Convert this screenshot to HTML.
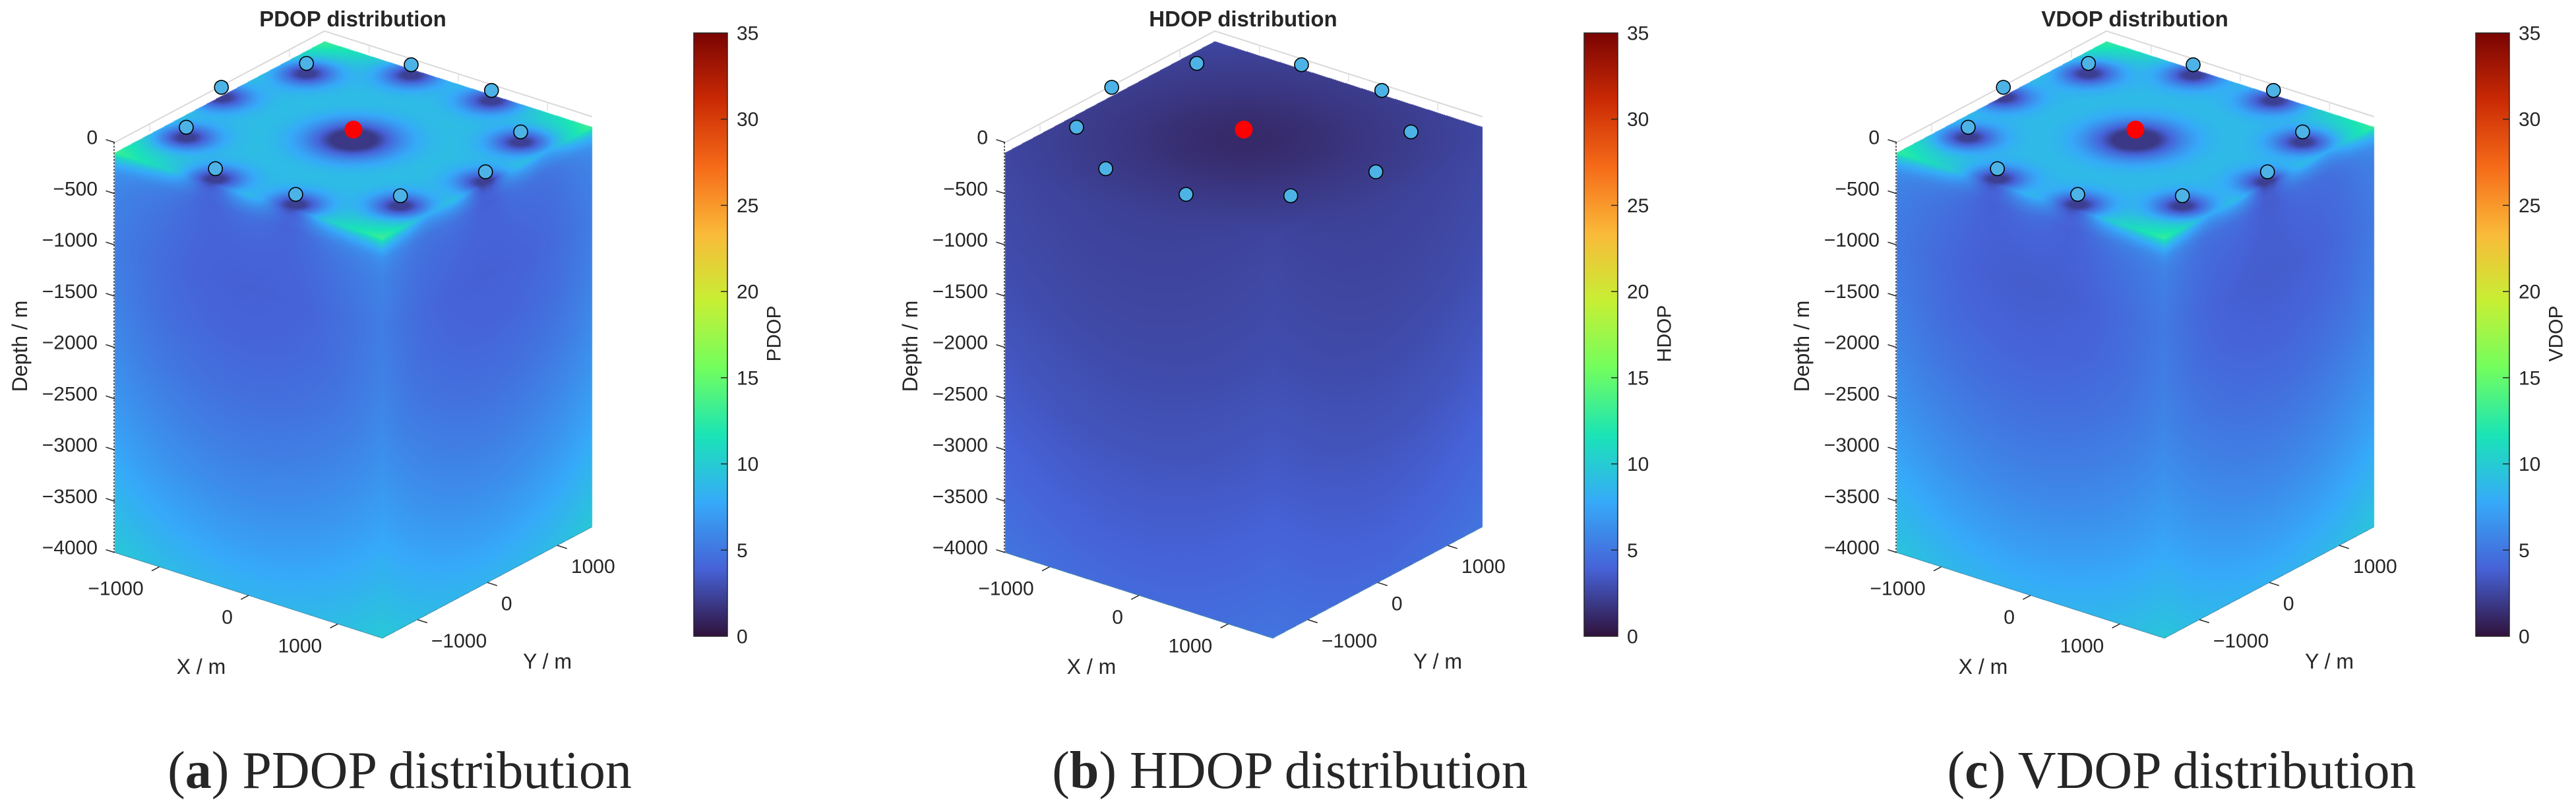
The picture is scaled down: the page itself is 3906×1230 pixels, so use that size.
<!DOCTYPE html>
<html>
<head>
<meta charset="utf-8">
<style>
  html,body{margin:0;padding:0;background:#fff;}
  #wrap{position:relative;width:3906px;height:1230px;overflow:hidden;background:#fff;}
  #cv{position:absolute;left:0;top:0;}
  #sv{position:absolute;left:0;top:0;}
  text{font-family:"Liberation Sans",Arial,sans-serif;fill:#262626;}
</style>
</head>
<body>
<div id="wrap">
<canvas id="cv" width="3906" height="1230"></canvas>
<svg id="sv" width="3906" height="1230" xmlns="http://www.w3.org/2000/svg">
  <defs>
    <linearGradient id="turboGrad" x1="0" y1="1" x2="0" y2="0"></linearGradient>
  </defs>
</svg>
</div>
<script>
// ---------- data ----------
const panelOffsets = [0, 1350, 2702];
const panelTitles = ["PDOP distribution", "HDOP distribution", "VDOP distribution"];
const panelLetters = ["a", "b", "c"];
const colorbarLabels = ["PDOP", "HDOP", "VDOP"];
const depthTicks = [0, -500, -1000, -1500, -2000, -2500, -3000, -3500, -4000];
const xTicks = [-1000, 0, 1000];
const yTicks = [-1000, 0, 1000];
const colorbarTicks = [0, 5, 10, 15, 20, 25, 30, 35];
const sensorX = [-1200, -450, 450, 1200, 1480, 1200, 450, -450, -1200, -1480];
const sensorY = [860, 1400, 1400, 860, 0, -860, -1400, -1400, -860, 0];
const targetX = [0];
const targetY = [0];
// depth profiles (m below surface) of DOP value at centre / corners of the volume
const depthLevels = [100, 300, 1000, 1500, 2000, 2500, 3000, 3500, 4000];
const pdopCenter = [4.8, 3.8, 3.2, 3.1, 3.4, 4.0, 4.8, 5.9, 7.2];
const pdopCorner = [7.0, 5.8, 5.5, 5.8, 6.3, 7.0, 7.8, 8.8, 9.9];
const hdopCenter = [1.8, 2.0, 2.2, 2.3, 2.5, 2.7, 3.0, 3.3, 3.7];
const hdopCorner = [2.5, 2.6, 2.8, 3.0, 3.3, 3.6, 4.0, 4.4, 4.9];
const vdopCenter = [4.6, 3.6, 3.1, 3.0, 3.3, 3.9, 4.7, 5.8, 7.0];
const vdopCorner = [6.8, 5.6, 5.3, 5.6, 6.1, 6.8, 7.6, 8.6, 9.7];
// surface (top slice) levels: plateau, corner, minimum
const surfPlateau = [11.0, 2.1, 10.8];
const surfCorner = [14.0, 2.6, 13.6];
const surfMin = [1.4, 0.9, 1.4];
const turboColors = ['#30123b','#4662d7','#36aaf9','#1ae4b6','#72fe5e','#c7ef34','#faba39','#f66b19','#ca2a04','#7a0403'];
const cMin = 0, cMax = 35;

// ---------- geometry ----------
const HALF = 1500, ZTOP = -100, ZBOT = -4000;
const EXx = 0.1353, EXy = 0.0433, EYx = 0.106, EYy = -0.0563, EZ = 0.1555;
const OX = 174, OY = 216;
function proj(off, x, y, z) {
  return [off + OX + (x + HALF) * EXx + (y + HALF) * EYx,
          OY + (x + HALF) * EXy + (y + HALF) * EYy - z * EZ];
}

// ---------- colour ----------
const turboRGB = turboColors.map(h => [parseInt(h.substr(1,2),16), parseInt(h.substr(3,2),16), parseInt(h.substr(5,2),16)]);
function turbo(v) {
  let t = (v - cMin) / (cMax - cMin);
  t = Math.max(0, Math.min(1, t));
  const f = t * (turboRGB.length - 1);
  const i = Math.min(turboRGB.length - 2, Math.floor(f));
  const a = f - i;
  const c0 = turboRGB[i], c1 = turboRGB[i + 1];
  return [c0[0] + (c1[0] - c0[0]) * a, c0[1] + (c1[1] - c0[1]) * a, c0[2] + (c1[2] - c0[2]) * a];
}

// ---------- field ----------
function interp(arr, d) {
  if (d <= depthLevels[0]) return arr[0];
  for (let i = 1; i < depthLevels.length; i++) {
    if (d <= depthLevels[i]) {
      const a = (d - depthLevels[i - 1]) / (depthLevels[i] - depthLevels[i - 1]);
      return arr[i - 1] + (arr[i] - arr[i - 1]) * a;
    }
  }
  return arr[arr.length - 1];
}
const centerProfiles = [pdopCenter, hdopCenter, vdopCenter];
const cornerProfiles = [pdopCorner, hdopCorner, vdopCorner];

function surfaceVal(p, x, y) {
  const c = Math.pow((x * x + y * y) / (2 * HALF * HALF), 2);
  const base = surfPlateau[p] + (surfCorner[p] - surfPlateau[p]) * c;
  if (p === 1) {
    const r2 = (x - targetX[0]) ** 2 + (y - targetY[0]) ** 2;
    return surfMin[p] + (base - surfMin[p]) * (1 - 0.8 * Math.exp(-r2 / (2 * 750 * 750)));
  }
  let f = 1;
  for (let i = 0; i < sensorX.length; i++) {
    const r2 = (x - sensorX[i]) ** 2 + (y - sensorY[i]) ** 2;
    f *= Math.max(0.08, 1 - 0.72 * Math.exp(-r2 / (2 * 180 * 180)) - 0.25 * Math.exp(-r2 / (2 * 400 * 400)));
  }
  const rc = (x - targetX[0]) ** 2 + (y - targetY[0]) ** 2;
  f *= Math.max(0.05, 1 - 0.85 * Math.exp(-rc / (2 * 280 * 280)) - 0.3 * Math.exp(-rc / (2 * 620 * 620)));
  return surfMin[p] + (base - surfMin[p]) * f;
}
function deepVal(p, x, y, d) {
  const h2 = (x * x + y * y) / (2 * HALF * HALF);
  const cen = interp(centerProfiles[p], d), cor = interp(cornerProfiles[p], d);
  let v = cen + (cor - cen) * h2;
  if (p !== 1) {
    const s = 260 + 0.15 * d;
    let dip = 0;
    for (let i = 0; i < sensorX.length; i++) {
      const r2 = (x - sensorX[i]) ** 2 + (y - sensorY[i]) ** 2;
      dip += Math.exp(-r2 / (2 * s * s));
    }
    v -= 0.9 * Math.min(1, dip) * Math.exp(-d / 2000);
  }
  return v;
}
function sideVal(p, x, y, z) {
  const d = -z;
  const w = Math.exp(-(d - 100) / 90);
  return w * surfaceVal(p, x, y) + (1 - w) * deepVal(p, x, y, d);
}

// ---------- render volume ----------
const cv = document.getElementById('cv');
const ctx = cv.getContext('2d');
const img = ctx.createImageData(3906, 1230);
const px = img.data;
function put(sx, sy, rgb) {
  const k = (sy * 3906 + sx) * 4;
  px[k] = rgb[0]; px[k + 1] = rgb[1]; px[k + 2] = rgb[2]; px[k + 3] = 255;
}
panelOffsets.forEach((off, p) => {
  for (let sx = Math.floor(off + OX); sx <= Math.ceil(off + OX + 2 * HALF * EXx); sx++) {
    const x = (sx + 0.5 - off - OX) / EXx - HALF;
    if (x < -HALF || x > HALF) continue;
    const yTop = OY + (x + HALF) * EXy - ZTOP * EZ;
    const yBot = OY + (x + HALF) * EXy - ZBOT * EZ;
    for (let sy = Math.floor(yTop); sy <= Math.ceil(yBot); sy++) {
      const z = -((sy + 0.5) - OY - (x + HALF) * EXy) / EZ;
      if (z > ZTOP || z < ZBOT) continue;
      put(sx, sy, turbo(sideVal(p, x, -HALF, z)));
    }
  }
  const fx0 = off + OX + 2 * HALF * EXx;
  for (let sx = Math.floor(fx0); sx <= Math.ceil(fx0 + 2 * HALF * EYx); sx++) {
    const y = (sx + 0.5 - fx0) / EYx - HALF;
    if (y < -HALF || y > HALF) continue;
    const base = OY + 2 * HALF * EXy + (y + HALF) * EYy;
    for (let sy = Math.floor(base - ZTOP * EZ); sy <= Math.ceil(base - ZBOT * EZ); sy++) {
      const z = -((sy + 0.5) - base) / EZ;
      if (z > ZTOP || z < ZBOT) continue;
      put(sx, sy, turbo(sideVal(p, HALF, y, z)));
    }
  }
  const det = EXx * EYy - EYx * EXy;
  const tY = OY - ZTOP * EZ;
  const yMin = Math.floor(proj(off, -HALF, HALF, ZTOP)[1]) - 1;
  const yMax = Math.ceil(proj(off, HALF, -HALF, ZTOP)[1]) + 1;
  for (let sx = Math.floor(off + OX); sx <= Math.ceil(fx0 + 2 * HALF * EYx); sx++) {
    for (let sy = yMin; sy <= yMax; sy++) {
      const a = sx + 0.5 - off - OX, b = sy + 0.5 - tY;
      const u = (a * EYy - EYx * b) / det;
      const w = (EXx * b - EXy * a) / det;
      if (u < 0 || u > 2 * HALF || w < 0 || w > 2 * HALF) continue;
      put(sx, sy, turbo(surfaceVal(p, u - HALF, w - HALF)));
    }
  }
});
ctx.putImageData(img, 0, 0);

// ---------- SVG overlay ----------
const NS = 'http://www.w3.org/2000/svg';
const svg = document.getElementById('sv');
function mk(tag, attrs, parent) {
  const e = document.createElementNS(NS, tag);
  for (const k in attrs) e.setAttribute(k, attrs[k]);
  (parent || svg).appendChild(e);
  return e;
}
const grad = document.getElementById('turboGrad');
turboColors.forEach((c, i) => {
  mk('stop', {offset: (i / (turboColors.length - 1) * 100) + '%', 'stop-color': c}, grad);
});

const CB_X = 1052, CB_W = 51, CB_TOP = 50, CB_BOT = 965;
function cbY(v) { return CB_BOT - (v - cMin) / (cMax - cMin) * (CB_BOT - CB_TOP); }

panelOffsets.forEach((off, p) => {
  const g = mk('g', {});
  
  

  const t = mk('text', {x: off + 535, y: 40, 'text-anchor': 'middle', 'font-size': 33, 'font-weight': 'bold', fill: '#000'}, g);
  t.textContent = panelTitles[p];
  
  

  const b0 = proj(off, -HALF, -HALF, 0), b1 = proj(off, -HALF, HALF, 0), b2 = proj(off, HALF, HALF, 0);
  const box = mk('polyline', {points: `${b0[0]},${b0[1]} ${b1[0]},${b1[1]} ${b2[0]},${b2[1]}`, fill: 'none', stroke: '#d9d9d9', 'stroke-width': 2}, g);
  
  
  xTicks.forEach(xt => {
    const a = proj(off, xt, HALF, 0);
    const gt = mk('line', {x1: a[0], y1: a[1], x2: a[0], y2: a[1] + 12, stroke: '#e0e0e0', 'stroke-width': 1.5}, g);
    
    
  });
  yTicks.forEach(yt => {
    const a = proj(off, -HALF, yt, 0);
    const gt = mk('line', {x1: a[0], y1: a[1], x2: a[0], y2: a[1] + 12, stroke: '#e0e0e0', 'stroke-width': 1.5}, g);
    
    
  });

  const zt = proj(off, -HALF, -HALF, 0), zb = proj(off, -HALF, -HALF, ZBOT);
  const zl = mk('line', {x1: zt[0] - 1, y1: zt[1], x2: zb[0] - 1, y2: zb[1], stroke: '#333', 'stroke-width': 1.5, 'stroke-dasharray': '3 2'}, g);
  
  
  depthTicks.forEach(v => {
    const e = proj(off, -HALF, -HALF, v);
    const tk = mk('line', {x1: e[0], y1: e[1], x2: e[0] - 100 * EXx, y2: e[1] - 100 * EXy, stroke: '#262626', 'stroke-width': 1.5}, g);
    
    
    const lb = mk('text', {x: off + 148, y: e[1] - 7, 'text-anchor': 'end', 'dominant-baseline': 'central', 'font-size': 30}, g);
    lb.textContent = v < 0 ? '\u2212' + Math.abs(v) : String(v);
    
    
  });
  const dl = mk('text', {x: off + 30, y: 525, 'text-anchor': 'middle', 'dominant-baseline': 'central', 'font-size': 32, transform: `rotate(-90 ${off + 30} 525)`}, g);
  dl.textContent = 'Depth / m';
  
  

  const xa = proj(off, -HALF, -HALF, ZBOT), xb = proj(off, HALF, -HALF, ZBOT);
  const xl = mk('line', {x1: xa[0], y1: xa[1], x2: xb[0], y2: xb[1], stroke: '#1f6f90', 'stroke-width': 1.2, opacity: 0.6}, g);
  
  
  xTicks.forEach(v => {
    const e = proj(off, v, -HALF, ZBOT);
    const tk = mk('line', {x1: e[0], y1: e[1], x2: e[0] - 110 * EYx, y2: e[1] - 110 * EYy, stroke: '#262626', 'stroke-width': 1.5}, g);
    
    
    const lb = mk('text', {x: e[0] - 24, y: e[1] + 43, 'text-anchor': 'end', 'font-size': 30}, g);
    lb.textContent = v < 0 ? '\u2212' + Math.abs(v) : String(v);
    
    
  });
  const xt = mk('text', {x: off + 305, y: 1022, 'text-anchor': 'middle', 'font-size': 32}, g);
  xt.textContent = 'X / m';
  
  

  const ya = proj(off, HALF, -HALF, ZBOT), yb = proj(off, HALF, HALF, ZBOT);
  const yl = mk('line', {x1: ya[0], y1: ya[1], x2: yb[0], y2: yb[1], stroke: '#1f6f90', 'stroke-width': 1.2, opacity: 0.6}, g);
  
  
  yTicks.forEach(v => {
    const e = proj(off, HALF, v, ZBOT);
    const tk = mk('line', {x1: e[0], y1: e[1], x2: e[0] + 110 * EXx, y2: e[1] + 110 * EXy, stroke: '#262626', 'stroke-width': 1.5}, g);
    
    
    const lb = mk('text', {x: e[0] + 21, y: e[1] + 42, 'text-anchor': 'start', 'font-size': 30}, g);
    lb.textContent = v < 0 ? '\u2212' + Math.abs(v) : String(v);
    
    
  });
  const ytt = mk('text', {x: off + 830, y: 1014, 'text-anchor': 'middle', 'font-size': 32}, g);
  ytt.textContent = 'Y / m';
  
  

  sensorX.forEach((sx, i) => {
    const s = proj(off, sx, sensorY[i], 0);
    const c = mk('circle', {cx: s[0], cy: s[1], r: 10.5, fill: '#4db3e6', stroke: '#000', 'stroke-width': 1.6}, g);
    
    
  });
  targetX.forEach((tx, i) => {
    const s = proj(off, tx, targetY[i], 0);
    const c = mk('circle', {cx: s[0], cy: s[1], r: 13.5, fill: '#ff0000'}, g);
    
    
  });

  const cb = mk('rect', {x: off + CB_X, y: CB_TOP, width: CB_W, height: CB_BOT - CB_TOP, fill: 'url(#turboGrad)', stroke: '#262626', 'stroke-width': 1.5}, g);
  
  
  colorbarTicks.forEach(v => {
    const y = cbY(v);
    if (v !== cMin && v !== cMax) {
      const tk = mk('line', {x1: off + CB_X + CB_W - 10, y1: y, x2: off + CB_X + CB_W, y2: y, stroke: '#262626', 'stroke-width': 1.5}, g);
      
      
    }
    const lb = mk('text', {x: off + CB_X + CB_W + 14, y: y + 1, 'dominant-baseline': 'central', 'font-size': 30}, g);
    lb.textContent = String(v);
    
    
  });
  const cl = mk('text', {x: off + 1174, y: 506, 'text-anchor': 'middle', 'dominant-baseline': 'central', 'font-size': 30, transform: `rotate(-90 ${off + 1174} 506)`}, g);
  cl.textContent = colorbarLabels[p];
  
  

  const cap = mk('text', {x: off + 606, y: 1195, 'text-anchor': 'middle', 'font-size': 80, fill: '#000', style: 'font-family:"Liberation Serif","Times New Roman",serif'}, g);
  
  
  const t1 = mk('tspan', {}, cap); t1.textContent = '(';
  const t2 = mk('tspan', {'font-weight': 'bold'}, cap); t2.textContent = panelLetters[p];
  const t3 = mk('tspan', {}, cap); t3.textContent = ') ' + panelTitles[p];
});
</script>
</body>
</html>
